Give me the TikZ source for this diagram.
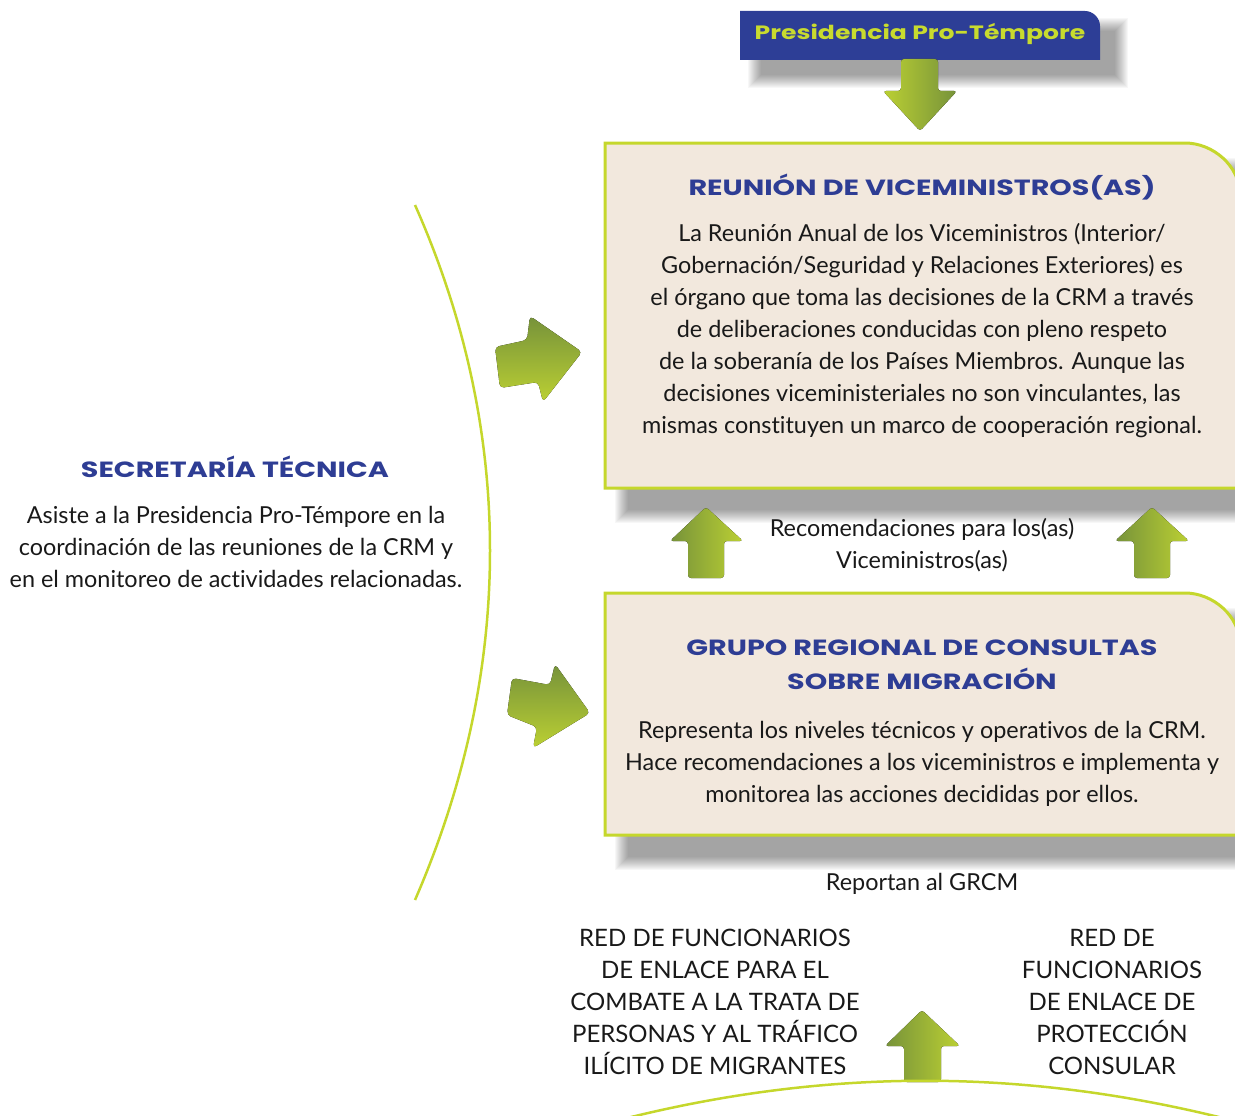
\documentclass[tikz,border=0pt]{standalone}
\usepackage{fontspec}
\setmainfont{Lato}[Ligatures=NoCommon]
\newfontfamily\titlefont{Poppins}[FakeStretch=1.3]
\definecolor{crmblue}{HTML}{2E3D94}
\definecolor{limeline}{HTML}{C5D72C}
\definecolor{boxfill}{HTML}{F2E8DD}
\definecolor{arrowdark}{HTML}{76923A}
\definecolor{arrowlight}{HTML}{BBD033}
\definecolor{headtext}{HTML}{C8DB2E}
\definecolor{headblue}{HTML}{2D3E96}
\begin{document}
\begin{tikzpicture}[x=1pt,y=-1pt,
  titletext/.style={font=\titlefont\bfseries\fontsize{22}{34}\selectfont, text=crmblue, align=center, inner sep=0pt},
  bodytext/.style={font=\fontsize{23.4}{32}\selectfont, text=black!90, align=center, inner sep=0pt},
  listtext/.style={font=\fontsize{24}{32}\selectfont, text=black!90, align=center, inner sep=0pt},
  boxshape/.style={fill=boxfill, draw=limeline, line width=3pt},
  uparrow/.style={left color=arrowdark, right color=arrowlight, rounded corners=3pt},
  rightarrow/.style={top color=arrowdark, bottom color=arrowlight, rounded corners=4pt},
  arcline/.style={draw=limeline, line width=2.5pt}
]
\useasboundingbox (0,0) rectangle (1235,1116);

% ---------- shadows ----------
\foreach \i in {0,...,13}{
  \fill[black, opacity=0.032] (748+\i,18+\i) rectangle (1128-\i,88-\i);
  \fill[black, opacity=0.032] (615+\i,158+\i) rectangle (1265-\i,523-\i);
  \fill[black, opacity=0.032] (615+\i,608+\i) rectangle (1265-\i,870-\i);
}

% ---------- header ----------
\fill[headblue] (740,60) -- (740,11) -- (1085,11) .. controls (1093,11) and (1100,18) .. (1100,26) -- (1100,60) -- cycle;
\node[font=\titlefont\bfseries\fontsize{19.3}{24}\selectfont, text=headtext, inner sep=0pt] (ppt) at (920,34) {Presidencia Pro-Témpore};

% down arrow
\fill[left color=arrowlight, right color=arrowdark, rounded corners=3pt]
  (901,59) -- (938,59) -- (938,91) -- (957,91) -- (920,131) -- (883,91) -- (901,91) -- cycle;
\coordinate (downtip) at (920,131);

% ---------- box 1 ----------
\path[boxshape] (605,488) -- (605,143) -- (1185,143) .. controls (1213,143) and (1240,166) .. (1240,195) -- (1240,488) -- cycle;
\node[titletext] (t1) at (922,187) {REUNIÓN DE VICEMINISTROS(AS)};
\node[bodytext] (b1) at (922,331) {La Reunión Anual de los Viceministros (Interior/\\
Gobernación/Seguridad y Relaciones Exteriores) es\\
el órgano que toma las decisiones de la CRM a través\\
de deliberaciones conducidas con pleno respeto\\
de la soberanía de los Países Miembros. Aunque las\\
decisiones viceministeriales no son vinculantes, las\\
mismas constituyen un marco de cooperación regional.};

% ---------- up arrows between boxes ----------
\fill[uparrow] (706,507) -- (743,541) -- (724,541) -- (724,578) -- (688,578) -- (688,541) -- (670,541) -- cycle;
\fill[uparrow] (1152,507) -- (1189,541) -- (1170,541) -- (1170,578) -- (1134,578) -- (1134,541) -- (1115,541) -- cycle;
\node[bodytext] (rec) at (922,545) {Recomendaciones para los(as)\\Viceministros(as)};

% ---------- box 2 ----------
\path[boxshape] (605,835) -- (605,593) -- (1185,593) .. controls (1213,593) and (1240,616) .. (1240,645) -- (1240,835) -- cycle;
\node[titletext] (t2) at (922,665) {GRUPO REGIONAL DE CONSULTAS\\SOBRE MIGRACIÓN};
\node[bodytext] (b2) at (922,764) {Representa los niveles técnicos y operativos de la CRM.\\
Hace recomendaciones a los viceministros e implementa y\\
monitorea las acciones decididas por ellos.};

\node[bodytext] (rep) at (922,884) {Reportan al GRCM};

% ---------- bottom lists ----------
\node[listtext] (red1) at (715,1002) {RED DE FUNCIONARIOS\\DE ENLACE PARA EL\\COMBATE A LA TRATA DE\\PERSONAS Y AL TRÁFICO\\ILÍCITO DE MIGRANTES};
\node[listtext] (red2) at (1112,1002) {RED DE\\FUNCIONARIOS\\DE ENLACE DE\\PROTECCIÓN\\CONSULAR};
\fill[uparrow] (922,1010) -- (960,1046) -- (941,1046) -- (941,1082) -- (904,1082) -- (904,1046) -- (885,1046) -- cycle;
\draw[arcline] (600,1125) .. controls (820,1066) and (1030,1066) .. (1250,1125);

% ---------- left side ----------
\draw[arcline] (415,205) .. controls (515,430) and (515,670) .. (415,900);
\node[titletext] (st) at (235,467) {SECRETARÍA TÉCNICA};
\node[bodytext] (stb) at (236,547) {Asiste a la Presidencia Pro-Témpore en la\\coordinación de las reuniones de la CRM y\\en el monitoreo de actividades relacionadas.};

% right arrows
\fill[rightarrow] (495,347) -- (527,340) -- (530,316) -- (582,352) -- (543,402) -- (538,382) -- (500,388) -- cycle;
\fill[rightarrow] (512,678) -- (550,685) -- (555,664) -- (590,713) -- (533,748) -- (537,727) -- (507,715) -- cycle;
\end{tikzpicture}
\end{document}
